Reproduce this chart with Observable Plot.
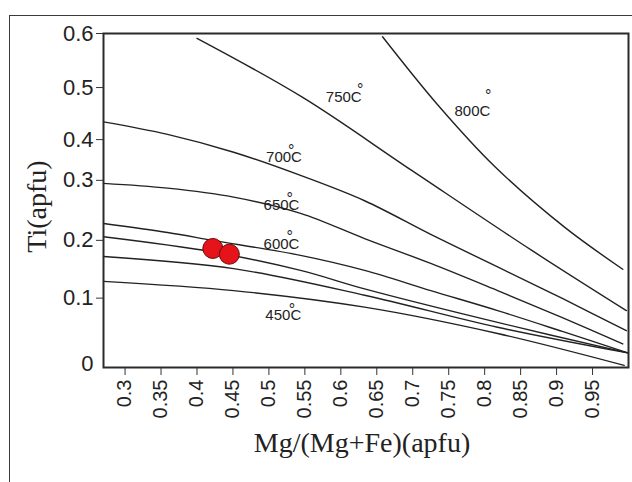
<!DOCTYPE html>
<html><head><meta charset="utf-8">
<script src="https://cdn.jsdelivr.net/npm/d3@7"></script>
<script src="https://cdn.jsdelivr.net/npm/@observablehq/plot@0.6"></script>
<style>
html,body{margin:0;padding:0;background:#fff;}
#wrap{position:relative;width:632px;height:482px;overflow:hidden;}
#outer{position:absolute;left:9px;top:15px;width:640px;height:480px;border-top:1.5px solid #3a3a3a;border-left:1.5px solid #3a3a3a;}
#chart{position:absolute;left:0;top:0;}
g[aria-label="x-axis tick label"] text{font-size:20px;}
g[aria-label="y-axis tick label"] text{font-size:22px;}
</style></head><body>
<div id="wrap"><div id="outer"></div><div id="chart"></div></div>
<script>
// ---- data ----
const xTicks = [0.3, 0.35, 0.4, 0.45, 0.5, 0.55, 0.6, 0.65, 0.7, 0.75, 0.8, 0.85, 0.9, 0.95];
const yBreaks = [0, 0.1, 0.2, 0.3, 0.4, 0.5, 0.6];
const yTicks = [0.1, 0.2, 0.3, 0.4, 0.5, 0.6];

const x800 = [0.658, 0.734, 0.814, 0.911, 0.992];
const y800 = [0.594, 0.468, 0.334, 0.222, 0.150];
const x750 = [0.400, 0.547, 0.698, 0.865, 0.997];
const y750 = [0.591, 0.481, 0.325, 0.183, 0.082];
const x700 = [0.27, 0.359, 0.451, 0.544, 0.633, 0.725, 0.818, 0.908, 0.997];
const y700 = [0.434, 0.410, 0.369, 0.312, 0.266, 0.210, 0.154, 0.0996, 0.053];
const x650 = [0.27, 0.359, 0.451, 0.544, 0.633, 0.725, 0.818, 0.908, 0.992];
const y650 = [0.295, 0.287, 0.272, 0.245, 0.203, 0.160, 0.113, 0.072, 0.034];
const x600 = [0.27, 0.359, 0.422, 0.544, 0.633, 0.725, 0.818, 0.908, 0.999];
const y600 = [0.228, 0.213, 0.200, 0.174, 0.148, 0.113, 0.082, 0.052, 0.021];
const x550 = [0.27, 0.422, 0.544, 0.633, 0.818, 0.999];
const y550 = [0.206, 0.180, 0.148, 0.116, 0.065, 0.021];
const x500 = [0.27, 0.451, 0.633, 0.818, 0.999];
const y500 = [0.172, 0.151, 0.105, 0.058, 0.021];
const x450 = [0.27, 0.451, 0.633, 0.818, 0.994];
const y450 = [0.129, 0.113, 0.087, 0.049, 0.003];

const sampleX = [0.422, 0.445];
const sampleY = [0.186, 0.176];

const labelText = ["750C", "800C", "700C", "650C", "600C", "450C"];
const labelX = [0.604, 0.783, 0.521, 0.5175, 0.5175, 0.520];
const labelY = [0.481, 0.455, 0.357, 0.258, 0.194, 0.075];
const degX = [0.627, 0.805, 0.531, 0.529, 0.529, 0.532];
const degY = [0.503, 0.492, 0.382, 0.275, 0.212, 0.0895];

const xTitle = "Mg/(Mg+Fe)(apfu)";
const yTitle = "Ti(apfu)";

// the original axis is drawn with unequal spacing between its ticks
const yAxisStops = [0, 0.1246, 0.2284, 0.3362, 0.4094, 0.5029, 0.6];

// ---- build tables ----
const curves = [["800", x800, y800], ["750", x750, y750], ["700", x700, y700], ["650", x650, y650],
                ["600", x600, y600], ["550", x550, y550], ["500", x500, y500], ["450", x450, y450]];
const rows = curves.flatMap(([t, xs, ys]) => xs.map((x, i) => ({t, x, y: ys[i]})));
const samples = sampleX.map((x, i) => ({x, y: sampleY[i]}));
const labels = labelText.map((text, i) => ({text, x: labelX[i], y: labelY[i], dx: degX[i], dy: degY[i]}));
const yWarp = d3.scaleLinear(yBreaks, yAxisStops);
const yFmt = d => d3.format(".1~f")(yWarp.invert(d));

const serif = "'Liberation Serif', 'Times New Roman', serif";
const chart = Plot.plot({
  width: 632, height: 482,
  marginLeft: 103, marginRight: 4, marginTop: 33, marginBottom: 115,
  style: {fontFamily: "'Liberation Sans', Arial, sans-serif", background: "transparent", color: "#222"},
  x: {domain: [0.27, 1.0]},
  y: {domain: [0, 0.6], transform: yWarp},
  marks: [
    Plot.line(rows, {x: "x", y: "y", z: "t", curve: "catmull-rom", stroke: "#222", strokeWidth: 1.4}),
    Plot.frame({stroke: "#2a2a2a", strokeWidth: 2}),
    Plot.axisX({ticks: xTicks, tickSize: 8, tickRotate: -90, tickPadding: 4, fontSize: 20, tickFormat: d => String(d), label: null, stroke: "#333"}),
    Plot.axisY({ticks: yTicks.map(yWarp), tickSize: 7, tickPadding: 3, fontSize: 22, tickFormat: yFmt, label: null, stroke: "#333"}),
    Plot.axisY({ticks: [0], tickSize: 0, tickPadding: 10, fontSize: 22, tickFormat: yFmt, label: null, dy: -4}),
    Plot.dot(samples, {x: "x", y: "y", r: 10, fill: "#e5141b", stroke: "#6a0a0a", strokeWidth: 1}),
    Plot.text(labels, {x: "x", y: "y", text: "text", fontSize: 15, fill: "#222"}),
    Plot.text(labels, {x: "dx", y: "dy", text: d => "°", fontSize: 16, dy: 4, fill: "#222"}),
    Plot.text([xTitle], {frameAnchor: "bottom", text: d => d, dy: 84, dx: -4, fontSize: 28, fontFamily: serif, fill: "#222"}),
    Plot.text([yTitle], {frameAnchor: "left", textAnchor: "middle", text: d => d, rotate: -90, dx: -66, dy: 6, fontSize: 28, fontFamily: serif, fill: "#222"})
  ]
});
document.getElementById("chart").appendChild(chart);
</script>
</body></html>
